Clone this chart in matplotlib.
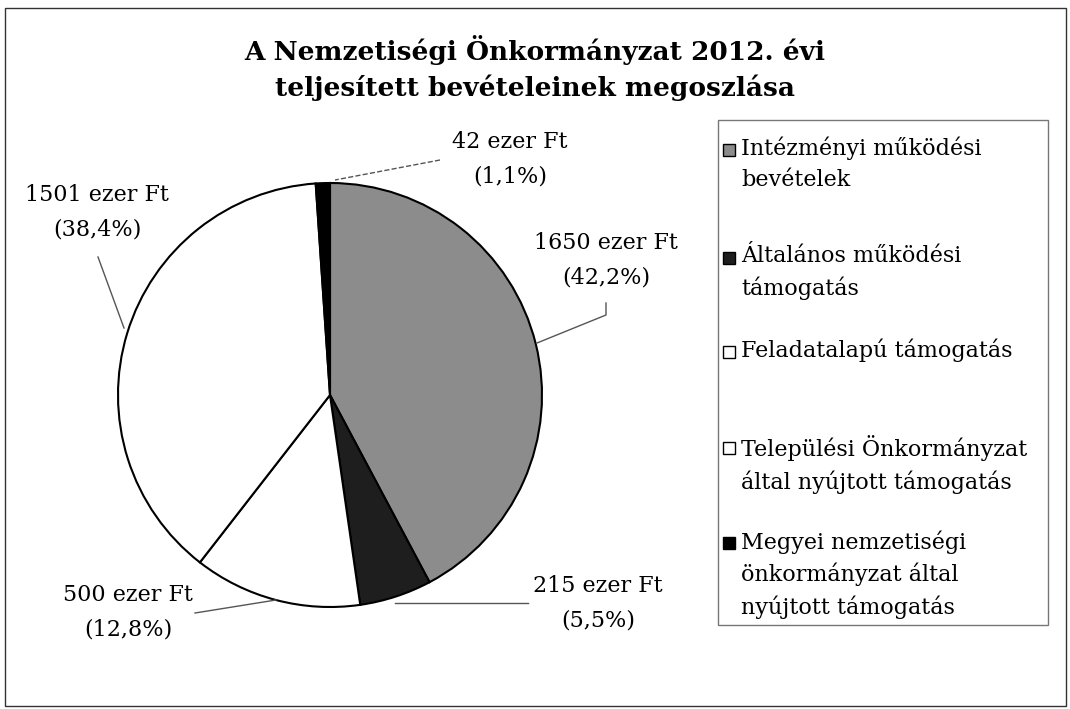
import matplotlib
matplotlib.use("Agg")
import matplotlib.pyplot as plt
from matplotlib.patches import Rectangle

# data
categories = ["Intézményi működési\nbevételek",
              "Általános működési\ntámogatás",
              "Feladatalapú támogatás",
              "Települési Önkormányzat\náltal nyújtott támogatás",
              "Megyei nemzetiségi\nönkormányzat által\nnyújtott támogatás"]
values = [1650, 215, 500, 1501, 42]
percents = ["42,2%", "5,5%", "12,8%", "38,4%", "1,1%"]
colors = ["#8c8c8c", "#1e1e1e", "white", "white", "black"]

# label positions (pixels) and leader lines
label_xy = [(606, 260), (598, 603), (128, 612), (97, 212), (510, 159)]
leader = [[(606, 303), (606, 315), (537, 343)],
          [(528, 603), (395, 603)],
          [(195, 613), (276, 600)],
          [(98, 257), (124, 328)],
          [(440, 160), (335, 180)]]

plt.rcParams['font.family'] = ['DejaVu Serif']

W, H = 1070, 709
fig = plt.figure(figsize=(W / 100, H / 100), dpi=100)

cx, cy, r = 330, 395, 212
ax = fig.add_axes([(cx - r) / W, (H - cy - r) / H, 2 * r / W, 2 * r / H])
wedges, _ = ax.pie(values, colors=colors, startangle=90, counterclock=False,
                   wedgeprops=dict(edgecolor="black", linewidth=1.5))
ax.set_xlim(-1, 1)
ax.set_ylim(-1, 1)
ax.set_aspect("auto")
ax.axis("off")

# data labels
for (x, y), v, p in zip(label_xy, values, percents):
    fig.text(x / W, 1 - y / H, f"{v} ezer Ft\n({p})", ha="center", va="center",
             fontsize=16, linespacing=1.75)
for i, seg in enumerate(leader):
    xs = [s[0] / W for s in seg]
    ys = [1 - s[1] / H for s in seg]
    fig.add_artist(plt.Line2D(xs, ys, color="#555555", lw=1,
                              ls="--" if i == 4 else "-"))

# title
fig.text(0.5, 1 - 68 / H, "A Nemzetiségi Önkormányzat 2012. évi\nteljesített bevételeinek megoszlása",
         ha="center", va="center", fontsize=19, fontweight="bold", linespacing=1.4)

# legend box
fig.add_artist(Rectangle((718 / W, 1 - 625 / H), 330 / W, 505 / H, transform=fig.transFigure,
                         fill=False, edgecolor="#777777", lw=1))
tops = [150, 258, 352, 448, 543]
for t, lab, c in zip(tops, categories, colors):
    fig.add_artist(Rectangle((723 / W, 1 - (t + 6) / H), 12 / W, 12 / H,
                             transform=fig.transFigure, facecolor=c, edgecolor="black", lw=1))
    fig.text(741 / W, 1 - (t - 13) / H, lab, ha="left", va="top", fontsize=16, linespacing=1.5)

# outer border
fig.add_artist(Rectangle((5 / W, 1 - 706 / H), 1061 / W, 698 / H, transform=fig.transFigure,
                         fill=False, edgecolor="#333333", lw=1))

fig.savefig("out.png", dpi=100)
